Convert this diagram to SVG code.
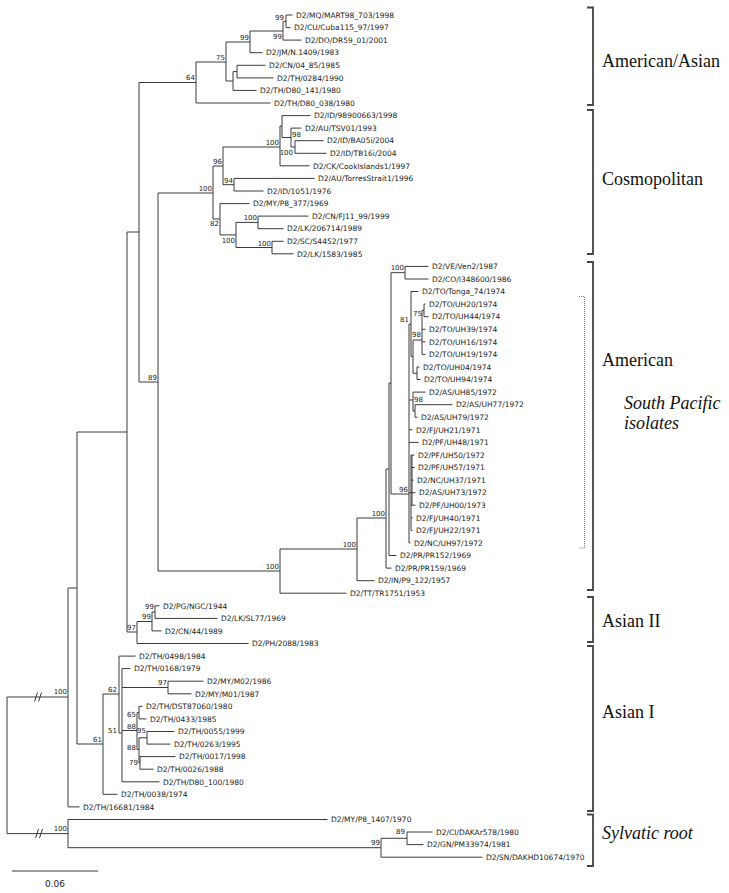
<svg xmlns="http://www.w3.org/2000/svg" width="729" height="893" viewBox="0 0 729 893">
<style>
.br{fill:none;stroke:#3a3a3a;stroke-width:1}
.lf{font-family:"DejaVu Sans",Verdana,sans-serif;font-size:7.5px;fill:#222}
.bs{font-family:"DejaVu Sans",Verdana,sans-serif;font-size:7px;fill:#222;text-anchor:end}
.bss{font-family:"DejaVu Sans",Verdana,sans-serif;font-size:7px;fill:#222}
.cl{font-family:"Liberation Serif","Times New Roman",serif;font-size:18px;fill:#111}
.it{font-style:italic}
.bk{fill:none;stroke:#444;stroke-width:1.8}
.dt{fill:none;stroke:#777;stroke-width:1;stroke-dasharray:1 1}
</style>
<rect width="729" height="893" fill="#fff"/>
<g id="connectors" class="br">
<path d="M7 697V833.6M7 697H68M7 833.6H68"/>
<path d="M34.5 701.5L37.5 692.5M38.5 701.5L41.5 692.5M35.5 838L38.5 829M39.5 838L42.5 829"/>
<path d="M68 588V806.9M68 806.9H79.5M68 588H77"/>
<path d="M77 432V744M77 432H127M77 744H103"/>
<path d="M127 232V632M127 232H139M127 632H137"/>
<path d="M139 82.5V382M139 82.5H196M139 382H158"/>
<path d="M196 62V103M196 62H226M196 103H270.5"/>
<path d="M226 42V81M226 42H250M226 81H233"/>
<path d="M250 31V52.7M250 31H283M250 52.7H262.5"/>
<path d="M283 21.3V40.1M283 21.3H286M283 40.1H301.5"/>
<path d="M286 15V27.6M286 15H292.5M286 27.6H290.5"/>
<path d="M233 71.6V90.4M233 71.6H237M233 90.4H256.5"/>
<path d="M237 65.3V77.9M237 65.3H265.5M237 77.9H273.5"/>
<path d="M158 193V571M158 193H213M158 571H280"/>
<path d="M213 166V219M213 166H223M213 219H220"/>
<path d="M223 147V184.7M223 147H280M223 184.7H234"/>
<path d="M280 126V165.8M280 126H282M280 165.8H309.5"/>
<path d="M282 115.6V137.5M282 115.6H310.5M282 137.5H291"/>
<path d="M291 128.1V147M291 128.1H301.5M291 147H295"/>
<path d="M295 140.7V153.3M295 140.7H323.5M295 153.3H326.5"/>
<path d="M234 178.4V191M234 178.4H314.5M234 191H263.5"/>
<path d="M220 203.6V234.9M220 203.6H249.5M220 234.9H236"/>
<path d="M236 222.4V247.5M236 222.4H258M236 247.5H272"/>
<path d="M258 216.1V228.7M258 216.1H308.5M258 228.7H283.5"/>
<path d="M272 241.3V253.8M272 241.3H283.5M272 253.8H293.5"/>
<path d="M280 549V593.2M280 549H357M280 593.2H346.5"/>
<path d="M357 518V580.7M357 518H386M357 580.7H374.5"/>
<path d="M386 469V568.1M386 469H389M386 568.1H391.5"/>
<path d="M389 383V555.5M389 383H391M389 555.5H396.5"/>
<path d="M391 272.7V494M391 272.7H405M391 494H409"/>
<path d="M405 266.4V279M405 266.4H428.5M405 279H428.5"/>
<path d="M409 324V542.9M409 324H411M409 400H413M409 429.8H412.5M409 442.4H418.5M409 492.7H411M409 542.9H410.5"/>
<path d="M411 291.5V356.5M411 291.5H418.5M411 356.5H413"/>
<path d="M413 340V373.3M413 340H422M413 373.3H417"/>
<path d="M422 310.4V354.4M422 310.4H424M422 329.3H425.5M422 341.8H425.5M422 354.4H425.5"/>
<path d="M424 304.1V316.7M424 304.1H425.5M424 316.7H428.5"/>
<path d="M417 367V379.5M417 367H419.5M417 379.5H420.5"/>
<path d="M413 392.1V411M413 392.1H425.5M413 411H415"/>
<path d="M415 404.7V417.2M415 404.7H452.5M415 417.2H417.5"/>
<path d="M411 455V530.4M411 455H414.5M411 467.5H414.5M411 480.1H413.5M411 492.7H415.5M411 505.2H415.5M411 517.8H412.5M411 530.4H412.5M412 455V505.2"/>
<path d="M137 621.5V643.5M137 621.5H152M137 643.5H248.5"/>
<path d="M152 612V630.9M152 612H155M152 630.9H161.5"/>
<path d="M155 605.8V618.4M155 605.8H159.5M155 618.4H217.5"/>
<path d="M103 694V794.3M103 694H119M103 794.3H117.5"/>
<path d="M119 656.1V733M119 656.1H135.5M119 733H122"/>
<path d="M122 668.6V781.8M122 668.6H130.5M122 687.5H168M122 730.5H137M122 781.8H159.5"/>
<path d="M168 681.2V693.8M168 681.2H203.5M168 693.8H191.5"/>
<path d="M137 712.6V749.5M137 712.6H139M137 749.5H139"/>
<path d="M139 706.3V718.9M139 706.3H142.5M139 718.9H146.5"/>
<path d="M139 737.8V762.9M139 737.8H147M139 762.9H140"/>
<path d="M147 731.5V744.1M147 731.5H174.5M147 744.1H170.5"/>
<path d="M140 756.6V769.2M140 756.6H175.5M140 769.2H153.5"/>
<path d="M68 819.5V847.7M68 819.5H327.5M68 847.7H381"/>
<path d="M381 838.3V857.2M381 838.3H407M381 857.2H482.5"/>
<path d="M407 832V844.6M407 832H432.5M407 844.6H423.5"/>
</g>
<g id="bootstrap">
<text class="bs" x="67" y="694">100</text>
<text class="bs" x="67" y="831">100</text>
<text class="bs" x="284" y="20">99</text>
<text class="bs" x="282" y="39">99</text>
<text class="bs" x="249" y="40">99</text>
<text class="bs" x="225" y="60">75</text>
<text class="bs" x="195" y="80">64</text>
<text class="bs" x="157" y="380">89</text>
<text class="bs" x="212" y="191">100</text>
<text class="bs" x="222" y="164">96</text>
<text class="bs" x="279" y="145">100</text>
<text class="bss" x="292" y="137">98</text>
<text class="bs" x="293" y="155">100</text>
<text class="bs" x="233" y="183">94</text>
<text class="bs" x="219" y="226">82</text>
<text class="bs" x="235" y="243">100</text>
<text class="bs" x="257" y="220">100</text>
<text class="bs" x="271" y="246">100</text>
<text class="bs" x="279" y="569">100</text>
<text class="bs" x="356" y="547">100</text>
<text class="bs" x="385" y="516">100</text>
<text class="bs" x="404" y="270">100</text>
<text class="bs" x="408" y="492">96</text>
<text class="bs" x="409" y="322">81</text>
<text class="bs" x="422" y="316">75</text>
<text class="bs" x="421" y="337">98</text>
<text class="bss" x="414" y="402">98</text>
<text class="bs" x="136" y="630">97</text>
<text class="bs" x="151" y="619">99</text>
<text class="bs" x="154" y="609">99</text>
<text class="bs" x="102" y="742">61</text>
<text class="bs" x="117" y="692">62</text>
<text class="bs" x="117" y="733">51</text>
<text class="bs" x="167" y="685">97</text>
<text class="bs" x="136" y="717">65</text>
<text class="bs" x="136" y="729">88</text>
<text class="bs" x="136" y="750">88</text>
<text class="bs" x="146" y="733">95</text>
<text class="bs" x="138" y="765">79</text>
<text class="bs" x="380" y="845">99</text>
<text class="bs" x="405" y="834">89</text>
</g>
<g id="leaves" class="lf">
<g id="leaf-1"><text x="296" y="17.7">D2/MQ/MART98_703/1998</text></g>
<g id="leaf-2"><text x="294" y="30.3">D2/CU/Cuba115_97/1997</text></g>
<g id="leaf-3"><text x="305" y="42.8">D2/DO/DR59_01/2001</text></g>
<g id="leaf-4"><text x="266" y="55.4">D2/JM/N.1409/1983</text></g>
<g id="leaf-5"><text x="269" y="68">D2/CN/04_85/1985</text></g>
<g id="leaf-6"><text x="277" y="80.6">D2/TH/0284/1990</text></g>
<g id="leaf-7"><text x="260" y="93.1">D2/TH/D80_141/1980</text></g>
<g id="leaf-8"><text x="274" y="105.7">D2/TH/D80_038/1980</text></g>
<g id="leaf-9"><text x="314" y="118.3">D2/ID/98900663/1998</text></g>
<g id="leaf-10"><text x="305" y="130.8">D2/AU/TSV01/1993</text></g>
<g id="leaf-11"><text x="327" y="143.4">D2/ID/BA05i/2004</text></g>
<g id="leaf-12"><text x="330" y="156">D2/ID/TB16i/2004</text></g>
<g id="leaf-13"><text x="313" y="168.5">D2/CK/CookIslands1/1997</text></g>
<g id="leaf-14"><text x="318" y="181.1">D2/AU/TorresStrait1/1996</text></g>
<g id="leaf-15"><text x="267" y="193.7">D2/ID/1051/1976</text></g>
<g id="leaf-16"><text x="253" y="206.3">D2/MY/P8_377/1969</text></g>
<g id="leaf-17"><text x="312" y="218.8">D2/CN/FJ11_99/1999</text></g>
<g id="leaf-18"><text x="287" y="231.4">D2/LK/206714/1989</text></g>
<g id="leaf-19"><text x="287" y="244">D2/SC/S4452/1977</text></g>
<g id="leaf-20"><text x="297" y="256.5">D2/LK/1583/1985</text></g>
<g id="leaf-21"><text x="432" y="269.1">D2/VE/Ven2/1987</text></g>
<g id="leaf-22"><text x="432" y="281.7">D2/CO/I348600/1986</text></g>
<g id="leaf-23"><text x="422" y="294.2">D2/TO/Tonga_74/1974</text></g>
<g id="leaf-24"><text x="429" y="306.8">D2/TO/UH20/1974</text></g>
<g id="leaf-25"><text x="432" y="319.4">D2/TO/UH44/1974</text></g>
<g id="leaf-26"><text x="429" y="332">D2/TO/UH39/1974</text></g>
<g id="leaf-27"><text x="429" y="344.5">D2/TO/UH16/1974</text></g>
<g id="leaf-28"><text x="429" y="357.1">D2/TO/UH19/1974</text></g>
<g id="leaf-29"><text x="423" y="369.7">D2/TO/UH04/1974</text></g>
<g id="leaf-30"><text x="424" y="382.2">D2/TO/UH94/1974</text></g>
<g id="leaf-31"><text x="429" y="394.8">D2/AS/UH85/1972</text></g>
<g id="leaf-32"><text x="456" y="407.4">D2/AS/UH77/1972</text></g>
<g id="leaf-33"><text x="421" y="419.9">D2/AS/UH79/1972</text></g>
<g id="leaf-34"><text x="416" y="432.5">D2/FJ/UH21/1971</text></g>
<g id="leaf-35"><text x="422" y="445.1">D2/PF/UH48/1971</text></g>
<g id="leaf-36"><text x="418" y="457.7">D2/PF/UH50/1972</text></g>
<g id="leaf-37"><text x="418" y="470.2">D2/PF/UH57/1971</text></g>
<g id="leaf-38"><text x="417" y="482.8">D2/NC/UH37/1971</text></g>
<g id="leaf-39"><text x="419" y="495.4">D2/AS/UH73/1972</text></g>
<g id="leaf-40"><text x="419" y="507.9">D2/PF/UH00/1973</text></g>
<g id="leaf-41"><text x="416" y="520.5">D2/FJ/UH40/1971</text></g>
<g id="leaf-42"><text x="416" y="533.1">D2/FJ/UH22/1971</text></g>
<g id="leaf-43"><text x="414" y="545.6">D2/NC/UH97/1972</text></g>
<g id="leaf-44"><text x="400" y="558.2">D2/PR/PR152/1969</text></g>
<g id="leaf-45"><text x="395" y="570.8">D2/PR/PR159/1969</text></g>
<g id="leaf-46"><text x="378" y="583.4">D2/IN/P9_122/1957</text></g>
<g id="leaf-47"><text x="350" y="595.9">D2/TT/TR1751/1953</text></g>
<g id="leaf-48"><text x="163" y="608.5">D2/PG/NGC/1944</text></g>
<g id="leaf-49"><text x="221" y="621.1">D2/LK/SL77/1969</text></g>
<g id="leaf-50"><text x="165" y="633.6">D2/CN/44/1989</text></g>
<g id="leaf-51"><text x="252" y="646.2">D2/PH/2088/1983</text></g>
<g id="leaf-52"><text x="139" y="658.8">D2/TH/0498/1984</text></g>
<g id="leaf-53"><text x="134" y="671.3">D2/TH/0168/1979</text></g>
<g id="leaf-54"><text x="207" y="683.9">D2/MY/M02/1986</text></g>
<g id="leaf-55"><text x="195" y="696.5">D2/MY/M01/1987</text></g>
<g id="leaf-56"><text x="146" y="709">D2/TH/DST87060/1980</text></g>
<g id="leaf-57"><text x="150" y="721.6">D2/TH/0433/1985</text></g>
<g id="leaf-58"><text x="178" y="734.2">D2/TH/0055/1999</text></g>
<g id="leaf-59"><text x="174" y="746.8">D2/TH/0263/1995</text></g>
<g id="leaf-60"><text x="179" y="759.3">D2/TH/0017/1998</text></g>
<g id="leaf-61"><text x="157" y="771.9">D2/TH/0026/1988</text></g>
<g id="leaf-62"><text x="163" y="784.5">D2/TH/D80_100/1980</text></g>
<g id="leaf-63"><text x="121" y="797">D2/TH/0038/1974</text></g>
<g id="leaf-64"><text x="83" y="809.6">D2/TH/16681/1984</text></g>
<g id="leaf-65"><text x="331" y="822.2">D2/MY/P8_1407/1970</text></g>
<g id="leaf-66"><text x="436" y="834.7">D2/CI/DAKAr578/1980</text></g>
<g id="leaf-67"><text x="427" y="847.3">D2/GN/PM33974/1981</text></g>
<g id="leaf-68"><text x="486" y="859.9">D2/SN/DAKHD10674/1970</text></g>
</g>
<g id="clade-american-asian"><path class="bk" d="M587 7.5H593V105H587"/><text class="cl" x="602" y="67">American/Asian</text></g>
<g id="clade-cosmopolitan"><path class="bk" d="M587 110H593V254H587"/><text class="cl" x="602" y="185">Cosmopolitan</text></g>
<g id="clade-american"><path class="bk" d="M587 262H593V590H587"/><text class="cl" x="602" y="366">American</text></g>
<g id="south-pacific"><path class="dt" d="M579 296.5H584.5V548H579"/><text class="cl it" x="624" y="409">South Pacific</text><text class="cl it" x="624" y="429">isolates</text></g>
<g id="clade-asian-ii"><path class="bk" d="M587 597H593V642H587"/><text class="cl" x="602" y="627">Asian II</text></g>
<g id="clade-asian-i"><path class="bk" d="M587 646H593V811H587"/><text class="cl" x="602" y="718">Asian I</text></g>
<g id="clade-sylvatic"><path class="bk" d="M587 814.5H593V866H587"/><text class="cl it" x="602" y="839">Sylvatic root</text></g>
<g id="scale-bar"><path class="br" d="M12 871H98"/><text x="55" y="887" text-anchor="middle" font-family="DejaVu Sans,Verdana,sans-serif" font-size="9" fill="#222">0.06</text></g>
</svg>
